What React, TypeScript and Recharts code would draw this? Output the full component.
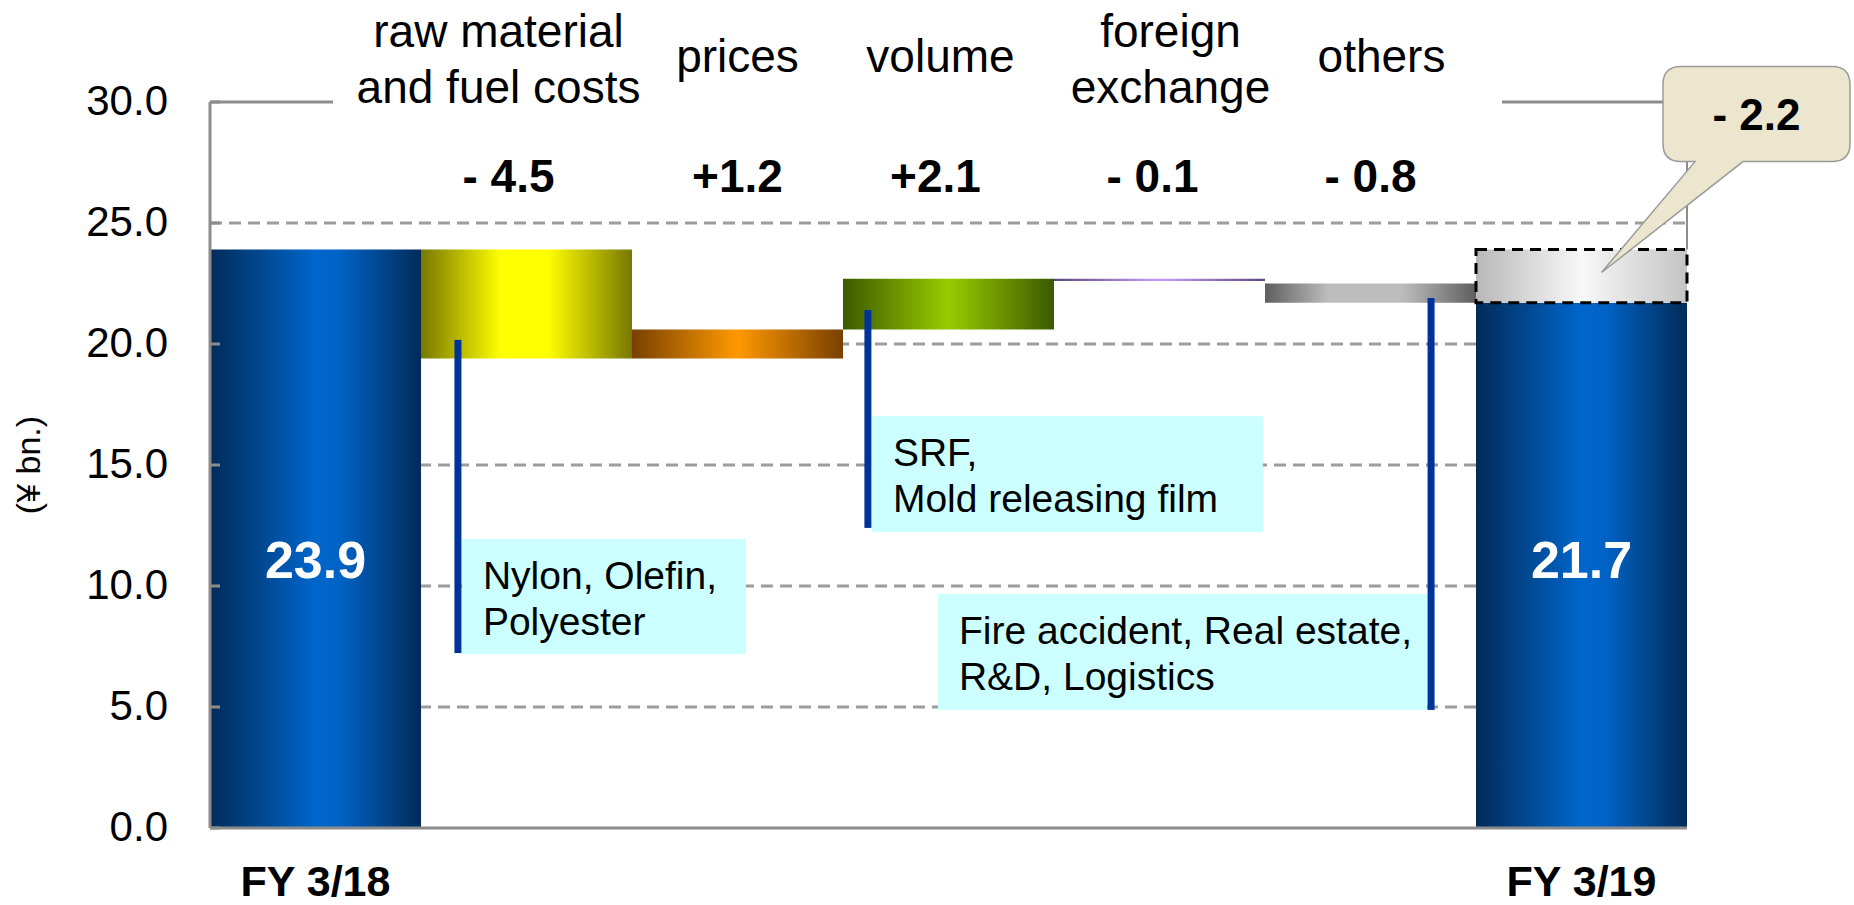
import React from 'react'
import { ComposedChart, Bar, XAxis, YAxis, CartesianGrid, ReferenceLine, ReferenceArea, LabelList, Cell } from 'recharts'

const FONT = '"Liberation Sans", Arial, Helvetica, sans-serif'

// data
const categories = ['FY 3/18', 'raw material and fuel costs', 'prices', 'volume', 'foreign exchange', 'others', 'FY 3/19']
const topLabels = [[], ['raw material', 'and fuel costs'], ['prices'], ['volume'], ['foreign', 'exchange'], ['others'], []]
const baseValues = [0, 19.4, 19.4, 20.6, 22.6, 21.7, 0]
const barValues = [23.9, 4.5, 1.2, 2.1, 0.1, 0.8, 21.7]
const gapValues = [0, 0, 0, 0, 0, 0, 2.2]
const deltaLabels = ['', '- 4.5', '+1.2', '+2.1', '- 0.1', '- 0.8', '']
const gapLabel = '- 2.2'
const yTicks = [0, 5, 10, 15, 20, 25, 30]
const gridTicks = [5, 10, 15, 20, 25]

// notes, positioned in chart units (x = category index from the left edge, y = value)
const noteLines = [['Nylon, Olefin,', 'Polyester'], ['SRF,', 'Mold releasing film'], ['Fire accident, Real estate,', 'R&D, Logistics']]
const noteStems = [[1.175, 20.17, 7.23], [3.118, 21.4, 12.4], [5.787, 21.9, 4.88]]
const noteBoxes = [[1.194, 2.54, 7.19, 11.94], [3.137, 4.99, 12.23, 17.02], [3.45, 5.768, 4.88, 9.67]]
const frameTop = 30
const frameGaps = [0.583, 6.123]

// styles
const barGradients = ['blue', 'yellow', 'orange', 'green', 'purple', 'grey', 'blue']
const gradientStops: Record<string, [number, string][]> = {
  blue: [[0, '#022b59'], [0.5, '#0066cc'], [0.62, '#0062c4'], [1, '#022b59']],
  yellow: [[0, '#787800'], [0.38, '#ffff00'], [0.6, '#ffff00'], [1, '#787800']],
  orange: [[0, '#784000'], [0.5, '#ff9900'], [1, '#784000']],
  green: [[0, '#3c5a00'], [0.5, '#99cc00'], [1, '#3c5a00']],
  purple: [[0, '#5c4a7c'], [0.5, '#cc99ff'], [1, '#5c4a7c']],
  grey: [[0, '#5e5e5e'], [0.3, '#bdbdbd'], [0.65, '#bdbdbd'], [1, '#5e5e5e']],
  ghost: [[0, '#b8b8b8'], [0.5, '#f8f8f8'], [1, '#c4c4c4']],
}
const topShift = [0, -28, 0, -8, 11, 11, 0]
const deltaShift = [0, -18, 0, -13, -7, 0, 0]
const AXIS = '#8c8c8c'
const STEM = '#003399'

const data = categories.map((name, i) => ({ name, base: baseValues[i], value: barValues[i], gap: gapValues[i] }))

const YTick = ({ x, y, payload }: any) => (
  <g>
    <line x1={x} x2={x + 10} y1={y} y2={y} stroke={AXIS} strokeWidth={3} />
    <text x={x - 42} y={y + 13} textAnchor='end' fontSize={42} fontFamily={FONT} fill='#000'>{Number(payload.value).toFixed(1)}</text>
  </g>
)

const BottomTick = ({ x, y, payload }: any) => {
  if (!String(payload.value).startsWith('FY')) return <g />
  return <text x={x} y={y + 68} textAnchor='middle' fontSize={43} fontWeight='bold' fontFamily={FONT} fill='#000'>{payload.value}</text>
}

const TopTick = ({ x, y, payload }: any) => {
  const i = categories.indexOf(payload.value)
  const lines = topLabels[i] || []
  const ys = lines.length === 2 ? [-55, 1] : [-30]
  return (
    <g>
      {lines.map((t, k) => (
        <text key={k} x={x + topShift[i]} y={y + ys[k]} textAnchor='middle' fontSize={46} fontFamily={FONT} fill='#000'>{t}</text>
      ))}
      {deltaLabels[i] ? (
        <text x={x + deltaShift[i]} y={y + 90} textAnchor='middle' fontSize={46} fontWeight='bold' fontFamily={FONT} fill='#000'>{deltaLabels[i]}</text>
      ) : null}
    </g>
  )
}

// value text inside the FY bars, and the blue note stems hanging from the change bars
const renderValueLabel = (p: any) => {
  const i = p.index
  if (!categories[i]) return null
  const vb = p.viewBox || p
  const ppu = vb.height / barValues[i]
  const bottom = vb.y + vb.height
  const yOf = (v: number) => bottom - (v - baseValues[i]) * ppu
  const stems = noteStems.filter(s => Math.floor(s[0]) === i)
  return (
    <g>
      {stems.map((s, k) => (
        <rect key={k} x={vb.x + (s[0] - i) * vb.width - 3.5} y={yOf(s[1])} width={7} height={yOf(s[2]) - yOf(s[1])} fill={STEM} />
      ))}
      {categories[i].startsWith('FY') ? (
        <text x={vb.x + vb.width / 2} y={yOf(11.1) + 19} textAnchor='middle' fontSize={52} fontWeight='bold' fontFamily={FONT} fill='#fff'>
          {barValues[i].toFixed(1)}
        </text>
      ) : null}
    </g>
  )
}

// callout "- 2.2" and the frame's right edge, attached to the dashed gap box
const renderCallout = (p: any) => {
  const vb = p.viewBox || p
  const { x, y, width: w, height: h } = vb
  if (!(h > 1)) return null
  const gap = gapValues[gapValues.length - 1]
  const ppu = h / gap
  const frameY = y - (frameTop - (baseValues[6] + barValues[6] + gap)) * ppu
  const bx0 = x + w - 24
  const bx1 = x + w + 163
  const by0 = y - 183
  const by1 = y - 88
  const r = 18
  const tipX = x + w * 0.595
  const tipY = y + h * 0.43
  const pL = bx0 + 32
  const pR = bx0 + 80
  const d = `M${bx0 + r},${by0} H${bx1 - r} Q${bx1},${by0} ${bx1},${by0 + r} V${by1 - r} Q${bx1},${by1} ${bx1 - r},${by1} H${pR} L${tipX},${tipY} L${pL},${by1} H${bx0 + r} Q${bx0},${by1} ${bx0},${by1 - r} V${by0 + r} Q${bx0},${by0} ${bx0 + r},${by0} Z`
  return (
    <g>
      <line x1={x + w} x2={x + w} y1={frameY} y2={y} stroke={AXIS} strokeWidth={2} />
      <path d={d} fill='#ece6cf' stroke='#9a9a9a' strokeWidth={1.5} />
      <text x={(bx0 + bx1) / 2} y={by0 + 63} textAnchor='middle' fontSize={44} fontWeight='bold' fontFamily={FONT} fill='#000'>{gapLabel}</text>
    </g>
  )
}

const frameShape = (p: any) => {
  const bw = (p.x2 - p.x1) / categories.length
  return (
    <g>
      <line x1={p.x1} x2={p.x1 + frameGaps[0] * bw} y1={p.y1} y2={p.y1} stroke={AXIS} strokeWidth={3} />
      <line x1={p.x1 + frameGaps[1] * bw} x2={p.x2} y1={p.y1} y2={p.y1} stroke={AXIS} strokeWidth={3} />
    </g>
  )
}

const noteShape = (i: number) => (p: any) => {
  const bw = p.width / categories.length
  const b = noteBoxes[i]
  const left = p.x + b[0] * bw
  return (
    <g>
      <rect x={left} y={p.y} width={(b[1] - b[0]) * bw} height={p.height} fill='#ccffff' />
      {noteLines[i].map((t, k) => (
        <text key={k} x={left + 21} y={p.y + 50 + k * 46} fontSize={39} fontFamily={FONT} fill='#000'>{t}</text>
      ))}
    </g>
  )
}

function App() {
  return (
    <div style={{ position: 'absolute', left: 0, top: 0, width: 1854, height: 905, background: '#fff' }}>
      <ComposedChart width={1854} height={905} data={data} barCategoryGap={0} barGap={0}
        margin={{ top: 12, right: 167, bottom: 0, left: 20 }}>
        <defs>
          {Object.keys(gradientStops).map(k => (
            <linearGradient key={k} id={`g-${k}`} x1='0' y1='0' x2='1' y2='0'>
              {gradientStops[k].map(([o, c], j) => <stop key={j} offset={o} stopColor={c} />)}
            </linearGradient>
          ))}
        </defs>
        <CartesianGrid vertical={false} horizontalValues={gridTicks} stroke='#9c9c9c' strokeWidth={3} strokeDasharray='12 7' />
        <XAxis dataKey='name' interval={0} height={77} tickSize={0} tickMargin={0} axisLine={{ stroke: AXIS, strokeWidth: 3 }} tickLine={false} tick={<BottomTick />} />
        <XAxis xAxisId='top' dataKey='name' orientation='top' interval={0} height={90} tickSize={0} tickMargin={0} axisLine={false} tickLine={false} tick={<TopTick />} />
        <YAxis domain={[0, 30]} ticks={yTicks} width={190} tickSize={0} tickMargin={0} interval={0}
          axisLine={{ stroke: AXIS, strokeWidth: 3 }} tickLine={false} tick={<YTick />}
          label={{
            content: (p: any) => {
              const vb = p.viewBox
              const cx = vb.x + 8
              const cy = vb.y + vb.height / 2
              return <text transform={`rotate(-90 ${cx} ${cy})`} x={cx} y={cy + 12} textAnchor='middle' fontSize={34} fontFamily={FONT} fill='#000'>(¥ bn.)</text>
            },
          }} />
        <ReferenceLine y={frameTop} shape={frameShape} />
        {noteBoxes.map((b, i) => (
          <ReferenceArea key={`box${i}`} y1={b[2]} y2={b[3]} shape={noteShape(i)} />
        ))}
        <Bar dataKey='base' stackId='w' fill='transparent' isAnimationActive={false} />
        <Bar dataKey='value' stackId='w' isAnimationActive={false}>
          {data.map((d, i) => <Cell key={d.name} fill={`url(#g-${barGradients[i]})`} />)}
          <LabelList content={renderValueLabel} />
        </Bar>
        <Bar dataKey='gap' stackId='w' fill='url(#g-ghost)' stroke='#000' strokeWidth={3} strokeDasharray='11 7' isAnimationActive={false}>
          <LabelList content={renderCallout} />
        </Bar>
      </ComposedChart>
    </div>
  )
}

export default App
